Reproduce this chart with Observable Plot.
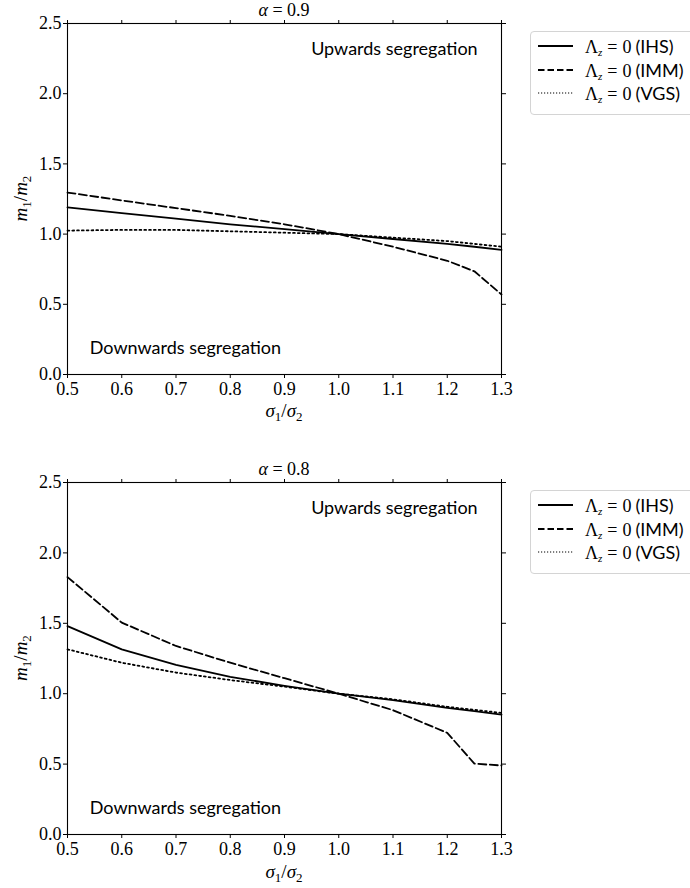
<!DOCTYPE html>
<html>
<head>
<meta charset="utf-8">
<script src="https://cdn.jsdelivr.net/npm/d3@7"></script>
<script src="https://cdn.jsdelivr.net/npm/@observablehq/plot@0.6"></script>
<style>
  html, body { margin: 0; padding: 0; background: white; }
  body { width: 690px; height: 888px; overflow: hidden; }
  .panel { position: relative; width: 690px; }
  .panel svg { display: block; }
  .legend { position: absolute; left: 530px; width: 175px; height: 84px; border: 1px solid #d4d4d4; border-radius: 4px; background: white; box-sizing: border-box; }
  .row { position: absolute; left: 0; height: 22px; width: 100%; }
  .row svg { position: absolute; left: 6px; top: 5px; }
  .row .lab { position: absolute; left: 54px; top: 0; font-size: 18px; line-height: 22px; white-space: nowrap; }
  .serif { font-family: "Liberation Serif", serif; }
  .eq { margin: 0 5px; }
  .it { font-style: italic; }
  .sans { font-family: Lato, sans-serif; margin-left: 4px; }
  sub { font-size: 11px; vertical-align: -3px; }
</style>
</head>
<body>
<div id="p1" class="panel"></div>
<div id="p2" class="panel"></div>
<script>
// ---- data ----
const sigmaRatio = [0.5, 0.6, 0.7, 0.8, 0.9, 1.0, 1.1, 1.2, 1.25, 1.3];

// alpha = 0.9
const ihs09 = [1.19, 1.15, 1.11, 1.07, 1.035, 1.0, 0.965, 0.93, 0.91, 0.888];
const imm09 = [1.296, 1.24, 1.185, 1.13, 1.07, 1.0, 0.91, 0.81, 0.735, 0.57];
const vgs09 = [1.025, 1.03, 1.03, 1.02, 1.01, 1.0, 0.975, 0.95, 0.93, 0.91];

// alpha = 0.8
const ihs08 = [1.48, 1.315, 1.204, 1.12, 1.056, 1.0, 0.955, 0.9, 0.876, 0.852];
const imm08 = [1.828, 1.505, 1.339, 1.22, 1.11, 1.0, 0.883, 0.722, 0.503, 0.49];
const vgs08 = [1.315, 1.22, 1.15, 1.097, 1.05, 1.0, 0.96, 0.907, 0.885, 0.864];

const xTicks = [0.5, 0.6, 0.7, 0.8, 0.9, 1.0, 1.1, 1.2, 1.3];
const yTicks = [0.0, 0.5, 1.0, 1.5, 2.0, 2.5];
const alphas = ["0.9", "0.8"];
const seriesNames = ["IHS", "IMM", "VGS"];
const dashes = [null, "8,3.5", "1.8,3"];

const SERIF = "'Liberation Serif', serif";

function panel(el, alpha, series, H, mt, mb, titleY, xlabY) {
  const fmt = d3.format(".1f");
  const marks = [
    Plot.axisX({ticks: xTicks, tickSize: 4, tickPadding: 4, tickFormat: fmt, label: null, fontFamily: SERIF, fontSize: 18}),
    Plot.axisX({anchor: "top", ticks: xTicks, tickSize: 4, tickFormat: () => "", label: null}),
    Plot.axisY({ticks: yTicks, tickSize: 4, tickPadding: 2, tickFormat: fmt, label: null, fontFamily: SERIF, fontSize: 18}),
    Plot.axisY({anchor: "right", ticks: yTicks, tickSize: 4, tickFormat: () => "", label: null}),
    Plot.frame({stroke: "black", strokeWidth: 1.1}),
    Plot.text(["Upwards segregation"], {x: 1.256, y: 2.32, textAnchor: "end", fontFamily: "Lato, sans-serif", fontSize: 18}),
    Plot.text(["Downwards segregation"], {x: 0.541, y: 0.19, textAnchor: "start", fontFamily: "Lato, sans-serif", fontSize: 18})
  ];
  series.forEach((ys, i) => {
    marks.push(Plot.line(ys, {x: sigmaRatio, y: ys, stroke: "black", strokeWidth: 1.8,
      strokeDasharray: dashes[i] || undefined}));
  });
  const chart = Plot.plot({
    width: 690, height: H,
    marginLeft: 67, marginRight: 189, marginTop: mt, marginBottom: mb,
    x: {domain: [0.5, 1.3]},
    y: {domain: [0, 2.5]},
    style: {background: "white", overflow: "visible"},
    marks
  });
  const svg = d3.select(chart);
  // tick labels in a serif face, like the reference
  svg.selectAll("text").filter(function () { return /^\d\.\d$/.test(this.textContent.trim()); })
    .style("font-family", SERIF).style("font-size", "18px").style("fill", "black");
  const cx = (67 + 501) / 2;
  // title
  const t = svg.append("text").attr("x", cx).attr("y", titleY).attr("text-anchor", "middle")
    .style("font-family", SERIF).style("font-size", "18px").attr("fill", "black");
  t.append("tspan").attr("font-style", "italic").text("α");
  t.append("tspan").text(" = " + alpha);
  // x label
  const xl = svg.append("text").attr("x", cx).attr("y", xlabY).attr("text-anchor", "middle")
    .style("font-family", SERIF).style("font-size", "19px").attr("fill", "black");
  xl.append("tspan").attr("font-style", "italic").text("σ");
  xl.append("tspan").style("font-size", "13px").attr("dy", 4).text("1");
  xl.append("tspan").attr("dy", -4).text("/");
  xl.append("tspan").attr("font-style", "italic").text("σ");
  xl.append("tspan").style("font-size", "13px").attr("dy", 4).text("2");
  // y label
  const cy = mt + (H - mt - mb) / 2;
  const yl = svg.append("text").attr("transform", `translate(27,${cy}) rotate(-90)`).attr("text-anchor", "middle")
    .style("font-family", SERIF).style("font-size", "19px").attr("fill", "black");
  yl.append("tspan").attr("font-style", "italic").text("m");
  yl.append("tspan").style("font-size", "13px").attr("dy", 4).text("1");
  yl.append("tspan").attr("dy", -4).text("/");
  yl.append("tspan").attr("font-style", "italic").text("m");
  yl.append("tspan").style("font-size", "13px").attr("dy", 4).text("2");
  el.appendChild(chart);

  // legend
  const lg = document.createElement("div");
  lg.className = "legend";
  lg.style.top = (mt + 8) + "px";
  seriesNames.forEach((name, i) => {
    const row = document.createElement("div");
    row.className = "row";
    row.style.top = (3 + i * 23.5) + "px";
    row.innerHTML = `<svg width="40" height="12"><line x1="1" x2="36" y1="6" y2="6" stroke="black" stroke-width="${i === 2 ? 1.2 : 1.8}" ${dashes[i] ? `stroke-dasharray="${i === 1 ? "6.5,3" : "1.2,1.8"}"` : ""}/></svg>` +
      `<span class="lab"><span class="serif">Λ<sub class="it">z</sub><span class="eq">=</span>0</span><span class="sans">(${name})</span></span>`;
    lg.appendChild(row);
  });
  el.appendChild(lg);
}

panel(document.getElementById("p1"), alphas[0], [ihs09, imm09, vgs09], 440, 23, 66, 16, 417);
panel(document.getElementById("p2"), alphas[1], [ihs08, imm08, vgs08], 448, 42, 54, 35, 438);
</script>
</body>
</html>
